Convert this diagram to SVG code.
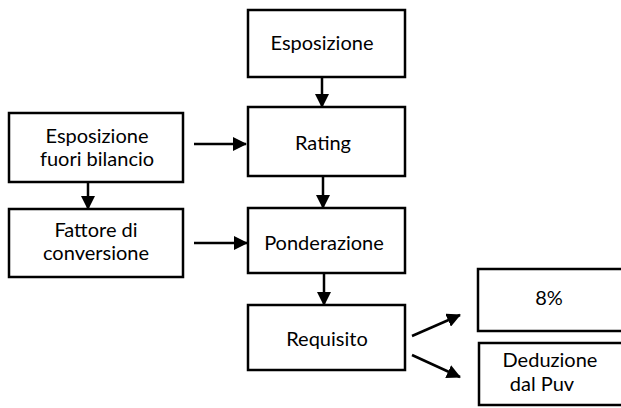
<svg xmlns="http://www.w3.org/2000/svg" width="621" height="408" viewBox="0 0 621 408">
  <style>
    .box { fill: #ffffff; stroke: #000000; stroke-width: 2.5; }
    .lbl { font-family: "Lato", "Liberation Sans", sans-serif; font-size: 20px; fill: #000000; text-anchor: middle; }
    .conn { stroke: #000000; stroke-width: 2.5; fill: none; marker-end: url(#ah); }
  </style>
  <defs>
    <marker id="ah" markerUnits="userSpaceOnUse" markerWidth="14" markerHeight="14" refX="13" refY="7" orient="auto">
      <path d="M0,0 L14,7 L0,14 z" fill="#000000"/>
    </marker>
  </defs>
  <rect width="621" height="408" fill="#ffffff"/>

  <g id="connectors">
    <line class="conn" x1="322" y1="77" x2="322" y2="107"/>
    <line class="conn" x1="323" y1="176" x2="323" y2="208"/>
    <line class="conn" x1="324" y1="273" x2="324" y2="305"/>
    <line class="conn" x1="88" y1="182" x2="88" y2="209"/>
    <line class="conn" x1="194" y1="144" x2="246" y2="144"/>
    <line class="conn" x1="194" y1="243" x2="247" y2="243"/>
    <line class="conn" x1="412" y1="336" x2="460" y2="315"/>
    <line class="conn" x1="412" y1="355" x2="460" y2="377"/>
  </g>

  <g id="esposizione">
    <rect class="box" x="248" y="10" width="157" height="67"/>
    <text class="lbl" x="322" y="50">Esposizione</text>
  </g>
  <g id="rating">
    <rect class="box" x="248" y="107" width="157" height="69"/>
    <text class="lbl" x="323" y="150">Rating</text>
  </g>
  <g id="esposizione-fuori-bilancio">
    <rect class="box" x="9" y="113" width="174" height="69"/>
    <text class="lbl" x="97" y="143">Esposizione</text>
    <text class="lbl" x="97" y="166">fuori bilancio</text>
  </g>
  <g id="fattore-conversione">
    <rect class="box" x="9" y="209" width="174" height="68"/>
    <text class="lbl" x="96" y="237">Fattore di</text>
    <text class="lbl" x="96" y="260">conversione</text>
  </g>
  <g id="ponderazione">
    <rect class="box" x="248" y="208" width="157" height="65"/>
    <text class="lbl" x="324" y="250">Ponderazione</text>
  </g>
  <g id="requisito">
    <rect class="box" x="248" y="305" width="157" height="65"/>
    <text class="lbl" x="327" y="346">Requisito</text>
  </g>
  <g id="otto-percento">
    <rect class="box" x="478" y="269" width="160" height="62"/>
    <text class="lbl" x="549" y="305">8%</text>
  </g>
  <g id="deduzione">
    <rect class="box" x="479" y="343" width="160" height="62"/>
    <text class="lbl" x="550" y="367">Deduzione</text>
    <text class="lbl" x="542" y="391">dal Puv</text>
  </g>
</svg>
